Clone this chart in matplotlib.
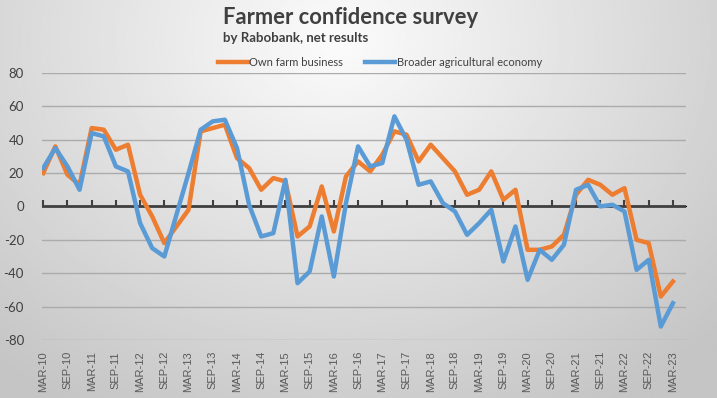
import numpy as np
import matplotlib
matplotlib.use("Agg")
import matplotlib.pyplot as plt

# Farmer confidence survey, quarterly net results (MAR-10 .. MAR-23)
own_farm = [20, 36, 19, 13, 47, 46, 34, 37, 7, -6, -22, -12, -2, 45, 47, 49, 29, 23,
            10, 17, 15, -18, -12, 12, -15, 18, 27, 21, 31, 45, 43, 27, 37, 29, 21, 7,
            10, 21, 4, 10, -26, -26, -24, -17, 7, 16, 13, 7, 11, -20, -22, -54, -45]
broader = [23, 35, 24, 10, 44, 42, 24, 21, -10, -25, -30, -5, 20, 46, 51, 52, 35, 1,
           -18, -16, 16, -46, -39, -6, -42, 2, 36, 24, 26, 54, 40, 13, 15, 2, -3, -17,
           -10, -2, -33, -12, -44, -26, -32, -23, 10, 13, 0, 1, -3, -38, -32, -72, -58]
tick_labels = ["MAR-10", "SEP-10", "MAR-11", "SEP-11", "MAR-12", "SEP-12", "MAR-13",
               "SEP-13", "MAR-14", "SEP-14", "MAR-15", "SEP-15", "MAR-16", "SEP-16",
               "MAR-17", "SEP-17", "MAR-18", "SEP-18", "MAR-19", "SEP-19", "MAR-20",
               "SEP-20", "MAR-21", "SEP-21", "MAR-22", "SEP-22", "MAR-23"]
y_ticks = [-80, -60, -40, -20, 0, 20, 40, 60, 80]

ORANGE = "#ED7D31"
BLUE = "#5B9BD5"
TEXT = "#404040"
FONT = ["Lato", "DejaVu Sans"]

fig = plt.figure(figsize=(7.17, 3.98), dpi=100)

# radial grey background like the Excel chart area
bg = fig.add_axes([0, 0, 1, 1], zorder=-10)
gx, gy = np.meshgrid(np.linspace(0, 1, 400), np.linspace(0, 1, 240))
r = np.sqrt(((gx - 0.47) / 0.75) ** 2 + ((gy - 0.1) / 1.1) ** 2)
shade = np.clip(0.985 - 0.22 * r, 0.77, 1.0)
bg.imshow(shade, cmap="gray", vmin=0, vmax=1, aspect="auto", extent=[0, 1, 0, 1],
          origin="upper", interpolation="bilinear")
bg.axis("off")

ax = fig.add_axes([0.0586, 0.146, 0.8985, 0.6706])
ax.patch.set_alpha(0)

x = np.arange(len(own_farm))
ax.plot(x, own_farm, color=ORANGE, lw=3.2, label="Own farm business", zorder=3)
ax.plot(x, broader, color=BLUE, lw=3.2, label="Broader agricultural economy", zorder=4)

ax.set_xlim(-0.1, 53.1)
ax.set_ylim(-80, 80)
ax.set_yticks(y_ticks)
ax.set_yticklabels([str(v) for v in y_ticks], fontsize=9.5, color=TEXT, family=FONT)
ax.tick_params(axis="y", length=0, pad=13)
ax.grid(axis="y", color="#ABABAB", lw=1)
ax.set_axisbelow(True)

ax.set_xticks(x[::2])
ax.set_xticklabels(tick_labels, rotation=90, fontsize=8, color="#595959",
                   family=["Liberation Sans", "DejaVu Sans"])
ax.tick_params(axis="x", length=0, pad=8)
for s in ax.spines.values():
    s.set_visible(False)

# zero axis with tick marks
ax.axhline(0, color=TEXT, lw=2, zorder=2)
zero = ax.secondary_xaxis(0.5)
zero.set_xticks(x[::2])
zero.set_xticklabels([])
zero.tick_params(length=4, width=1.5, color=TEXT, direction="out")
zero.spines["bottom"].set_visible(False)

fig.text(0.311, 0.955, "Farmer confidence survey", fontsize=15.8, fontweight="bold",
         color=TEXT, family=FONT, ha="left", va="center")
fig.text(0.311, 0.905, "by Rabobank, net results", fontsize=9.5, fontweight="bold",
         color=TEXT, family=FONT, ha="left", va="center")

leg = ax.legend(loc="center", bbox_to_anchor=(0.530, 0.844), bbox_transform=fig.transFigure,
                ncol=2, frameon=False, handlelength=2.7, handletextpad=0.1,
                columnspacing=2.0, prop={"family": FONT, "size": 8})
for t in leg.get_texts():
    t.set_color(TEXT)

fig.savefig("out.png", dpi=100)
